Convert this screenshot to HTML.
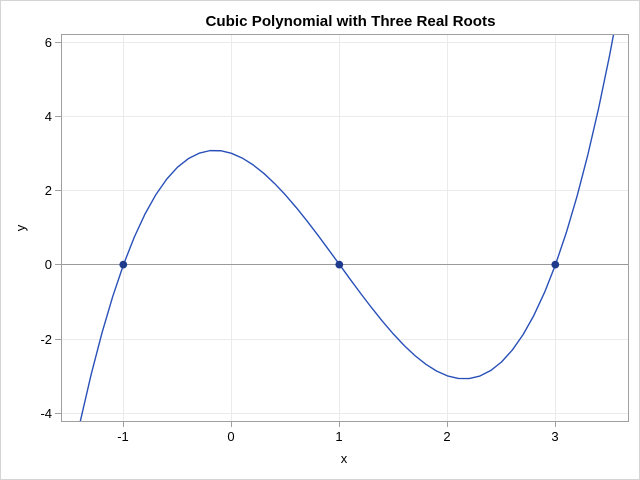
<!DOCTYPE html>
<html>
<head>
<meta charset="utf-8">
<style>
html,body{margin:0;padding:0;background:#fff;}
svg{display:block;}
text{font-family:"Liberation Sans",Arial,sans-serif;fill:#000;}
</style>
</head>
<body>
<svg width="640" height="480" viewBox="0 0 640 480" xmlns="http://www.w3.org/2000/svg">
<rect x="0.5" y="0.5" width="639" height="479" fill="#fff" stroke="#d4d4d4" stroke-width="1"/>
<defs>
<clipPath id="c"><rect x="61.5" y="34.5" width="567" height="387"/></clipPath>
</defs>
<!-- grid -->
<g stroke="#ebebeb" stroke-width="1">
<line x1="123.5" y1="35" x2="123.5" y2="421"/>
<line x1="231.5" y1="35" x2="231.5" y2="421"/>
<line x1="339.5" y1="35" x2="339.5" y2="421"/>
<line x1="447.5" y1="35" x2="447.5" y2="421"/>
<line x1="555.5" y1="35" x2="555.5" y2="421"/>
<line x1="62" y1="42.5" x2="628" y2="42.5"/>
<line x1="62" y1="116.5" x2="628" y2="116.5"/>
<line x1="62" y1="190.5" x2="628" y2="190.5"/>
<line x1="62" y1="339.5" x2="628" y2="339.5"/>
<line x1="62" y1="413.5" x2="628" y2="413.5"/>
</g>
<!-- zero reference line -->
<line x1="62" y1="264.5" x2="628" y2="264.5" stroke="#9a9a9a" stroke-width="1"/>
<!-- curve -->
<g clip-path="url(#c)">
<g transform="translate(231.5,264.6) scale(108,-37.1)">
<polyline fill="none" stroke="#2850b8" stroke-width="1.4" vector-effect="non-scaling-stroke" stroke-linejoin="round"
points="-1.5,-5.625 -1.4,-4.224 -1.3,-2.967 -1.2,-1.848 -1.1,-0.861 -1.0,0 -0.9,0.741 -0.8,1.368 -0.7,1.887 -0.6,2.304 -0.5,2.625 -0.4,2.856 -0.3,3.003 -0.2,3.072 -0.1,3.069 0,3 0.1,2.871 0.2,2.688 0.3,2.457 0.4,2.184 0.5,1.875 0.6,1.536 0.7,1.173 0.8,0.792 0.9,0.399 1.0,0 1.1,-0.399 1.2,-0.792 1.3,-1.173 1.4,-1.536 1.5,-1.875 1.6,-2.184 1.7,-2.457 1.8,-2.688 1.9,-2.871 2.0,-3 2.1,-3.069 2.2,-3.072 2.3,-3.003 2.4,-2.856 2.5,-2.625 2.6,-2.304 2.7,-1.887 2.8,-1.368 2.9,-0.741 3.0,0 3.1,0.861 3.2,1.848 3.3,2.967 3.4,4.224 3.5,5.625 3.6,7.176"/>
</g>
</g>
<!-- markers -->
<g fill="#1f3a8c">
<circle cx="123.3" cy="264.6" r="3.9"/>
<circle cx="339.3" cy="264.6" r="3.9"/>
<circle cx="555.3" cy="264.6" r="3.9"/>
</g>
<!-- frame -->
<rect x="61.5" y="34.5" width="567" height="387" fill="none" stroke="#a0a0a0" stroke-width="1"/>
<!-- ticks -->
<g stroke="#a0a0a0" stroke-width="1">
<line x1="123.5" y1="422" x2="123.5" y2="427"/>
<line x1="231.5" y1="422" x2="231.5" y2="427"/>
<line x1="339.5" y1="422" x2="339.5" y2="427"/>
<line x1="447.5" y1="422" x2="447.5" y2="427"/>
<line x1="555.5" y1="422" x2="555.5" y2="427"/>
<line x1="55" y1="42.5" x2="61" y2="42.5"/>
<line x1="55" y1="116.5" x2="61" y2="116.5"/>
<line x1="55" y1="190.5" x2="61" y2="190.5"/>
<line x1="55" y1="264.5" x2="61" y2="264.5"/>
<line x1="55" y1="339.5" x2="61" y2="339.5"/>
<line x1="55" y1="413.5" x2="61" y2="413.5"/>
</g>
<!-- tick labels -->
<g font-size="13" text-anchor="middle">
<text x="123" y="441">-1</text>
<text x="231" y="441">0</text>
<text x="339" y="441">1</text>
<text x="447" y="441">2</text>
<text x="555" y="441">3</text>
</g>
<g font-size="13" text-anchor="end">
<text x="52" y="47">6</text>
<text x="52" y="121">4</text>
<text x="52" y="195">2</text>
<text x="52" y="269">0</text>
<text x="52" y="344">-2</text>
<text x="52" y="418">-4</text>
</g>
<!-- axis labels -->
<text x="344" y="463" font-size="13" text-anchor="middle">x</text>
<text transform="translate(25,228) rotate(-90)" font-size="13" text-anchor="middle">y</text>
<!-- title -->
<text x="350.5" y="26" font-size="15" font-weight="bold" text-anchor="middle" textLength="290" lengthAdjust="spacingAndGlyphs">Cubic Polynomial with Three Real Roots</text>
</svg>
</body>
</html>
